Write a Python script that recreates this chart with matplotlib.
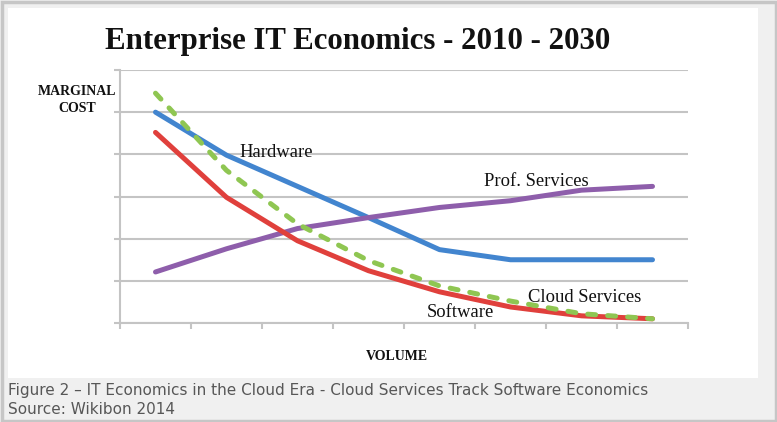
#!/usr/bin/python
# -*- encoding: UTF-8 -*-
'''Enterprise IT Economics chart, redrawn'''

import matplotlib
matplotlib.use('Agg')
import matplotlib.pyplot as plt
from matplotlib.patches import Rectangle

# data (grid units, 0..6)
periods = list(range(8))
hardware = [5.0, 3.98, 3.24, 2.5, 1.74, 1.5, 1.5, 1.5]
software = [4.52, 2.98, 1.95, 1.24, 0.74, 0.38, 0.17, 0.1]
prof_services = [1.21, 1.76, 2.24, 2.5, 2.74, 2.9, 3.15, 3.24]
cloud_services = [5.45, 3.62, 2.35, 1.48, 0.88, 0.52, 0.22, 0.1]

series = [
    ('Hardware', hardware, '#4285cf', '-'),
    ('Prof. Services', prof_services, '#8e5eab', '-'),
    ('Software', software, '#e0403c', '-'),
    ('Cloud Services', cloud_services, '#8fc652', '--'),
]
# label text position (x, y in data coords)
labels = {
    'Hardware': (2.2, 4.05),
    'Prof. Services': (5.87, 3.35),
    'Software': (4.8, 0.26),
    'Cloud Services': (6.54, 0.6),
}

SERIF = 'Liberation Serif'
W, H = 777, 422
fig = plt.figure(figsize=(W / 100.0, H / 100.0), dpi=100)
fig.patch.set_facecolor('#f0f0f0')

# frame and white panel
fig.patches.append(Rectangle((1.5 / W, 1.5 / H), 1 - 3.0 / W, 1 - 3.0 / H,
                             transform=fig.transFigure, fill=False,
                             edgecolor='#c6c6c6', linewidth=2.5, zorder=-10))
fig.patches.append(Rectangle((8.0 / W, 1 - 378.0 / H), 750.0 / W, 370.0 / H,
                             transform=fig.transFigure, facecolor='white',
                             edgecolor='none', zorder=-10))

ax = fig.add_axes([120.0 / W, 1 - 323.0 / H, 568.0 / W, 253.0 / H])
ax.set_facecolor('none')
ax.set_xlim(0, 8)
ax.set_ylim(0, 6)
ax.set_yticks(range(7))
ax.set_xticks(range(9))
ax.set_yticklabels([])
ax.set_xticklabels([])
ax.grid(axis='y', color='#c4c4c4', linewidth=1.5)
ax.set_axisbelow(True)
for s in ['top', 'right']:
    ax.spines[s].set_visible(False)
for s in ['left', 'bottom']:
    ax.spines[s].set_color('#c4c4c4')
    ax.spines[s].set_linewidth(1.5)
ax.tick_params(axis='both', direction='out', length=4, width=1.5,
               color='#c4c4c4')

xs = [p + 0.5 for p in periods]
for name, vals, col, ls in series:
    if ls == '--':
        ax.plot(xs, vals, color=col, linewidth=3.6, linestyle=(0, (1.6, 2.4)),
                dash_capstyle='round', solid_capstyle='round', zorder=4)
    else:
        ax.plot(xs, vals, color=col, linewidth=3.6, solid_capstyle='round',
                solid_joinstyle='round', zorder=3)
    lx, ly = labels[name]
    ax.text(lx, ly, name, fontsize=13.4, family=SERIF,
            ha='center', va='center', color='#111111', zorder=5)

fig.text(358.0 / W, 1 - 42.0 / H, 'Enterprise IT Economics - 2010 - 2030',
         fontsize=22.2, fontweight='bold', family=SERIF,
         ha='center', va='center', color='#111111')
fig.text(77.0 / W, 1 - 100.0 / H, 'MARGINAL\nCOST', fontsize=10,
         fontweight='bold', family=SERIF, ha='center', va='center',
         linespacing=1.4, color='#111111')
fig.text(397.0 / W, 1 - 356.0 / H, 'VOLUME', fontsize=10, fontweight='bold',
         family=SERIF, ha='center', va='center', color='#111111')

fig.text(8.0 / W, 1 - 391.0 / H,
         'Figure 2 \u2013 IT Economics in the Cloud Era - Cloud Services '
         'Track Software Economics', fontsize=11, family='DejaVu Sans',
         ha='left', va='center', color='#575757')
fig.text(8.0 / W, 1 - 409.0 / H, 'Source: Wikibon 2014', fontsize=11,
         family='DejaVu Sans', ha='left', va='center', color='#575757')

fig.savefig('out.png', dpi=100, facecolor=fig.get_facecolor())
